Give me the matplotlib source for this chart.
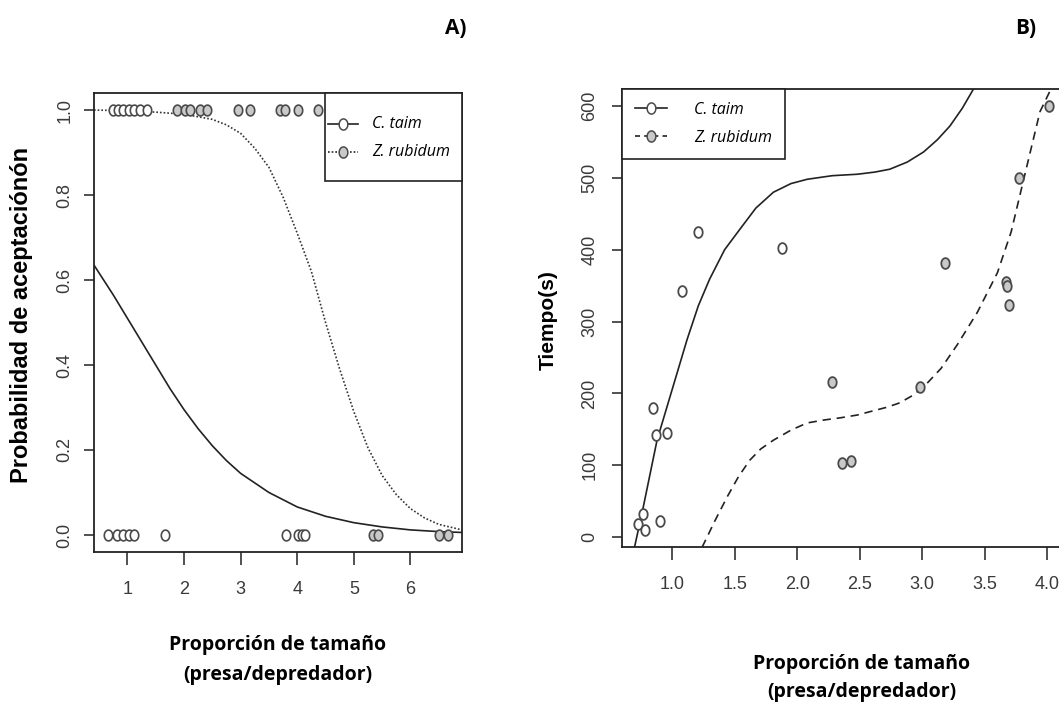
import numpy as np
import matplotlib
matplotlib.use("Agg")
import matplotlib.pyplot as plt
from matplotlib.lines import Line2D
from matplotlib.patches import Rectangle
from matplotlib.path import Path
from matplotlib import font_manager as fm

# --- A) acceptance probability vs size ratio ---
a_ct_x = [0.65, 0.82, 0.93, 1.02, 1.11, 1.67, 3.81, 4.02, 4.09, 4.14,
          0.75, 0.84, 0.93, 1.02, 1.11, 1.23, 1.35]
a_ct_y = [0] * 10 + [1] * 7
a_zr_x = [5.33, 5.42, 6.51, 6.67,
          1.88, 2.02, 2.11, 2.29, 2.41, 2.96, 3.17, 3.70, 3.79, 4.02, 4.36]
a_zr_y = [0] * 4 + [1] * 11

# fitted logistic curves
a_ct_fit_x = [0.41, 0.75, 1.0, 1.25, 1.5, 1.75, 2.0, 2.25, 2.5, 2.75, 3.0,
              3.5, 4.0, 4.5, 5.0, 5.5, 6.0, 6.5, 6.91]
a_ct_fit_y = [0.635, 0.565, 0.51, 0.455, 0.40, 0.345, 0.295, 0.25, 0.21, 0.175,
              0.145, 0.10, 0.066, 0.044, 0.029, 0.019, 0.012, 0.008, 0.006]
a_zr_fit_x = [0.41, 1.0, 1.5, 2.0, 2.5, 2.75, 3.0, 3.25, 3.5, 3.75, 4.0, 4.25,
              4.5, 4.75, 5.0, 5.25, 5.5, 5.75, 6.0, 6.25, 6.5, 6.91]
a_zr_fit_y = [1.0, 0.998, 0.995, 0.99, 0.978, 0.965, 0.945, 0.91, 0.865, 0.795,
              0.71, 0.62, 0.50, 0.39, 0.29, 0.205, 0.14, 0.095, 0.062, 0.04,
              0.025, 0.012]

# --- B) handling time vs size ratio ---
b_ct_x = [0.73, 0.77, 0.78, 0.85, 0.87, 0.90, 0.96, 1.08, 1.21, 1.88]
b_ct_y = [18, 33, 10, 180, 142, 22, 145, 343, 425, 402]
b_zr_x = [2.28, 2.36, 2.43, 2.98, 3.18, 3.67, 3.68, 3.69, 3.77, 4.01]
b_zr_y = [216, 103, 106, 209, 382, 355, 350, 323, 500, 600]

b_ct_fit_x = [0.70, 0.77, 0.88, 1.0, 1.12, 1.21, 1.30, 1.42, 1.54, 1.67, 1.81,
              1.95, 2.08, 2.28, 2.48, 2.62, 2.74, 2.88, 3.01, 3.12, 3.22, 3.32, 3.41]
b_ct_fit_y = [-14, 42, 135, 205, 275, 322, 359, 400, 428, 458, 480, 492, 498,
              503, 505, 508, 512, 522, 536, 553, 572, 597, 624]
b_zr_fit_x = [1.24, 1.34, 1.44, 1.53, 1.62, 1.71, 1.81, 1.95, 2.08, 2.21, 2.34,
              2.48, 2.61, 2.72, 2.82, 2.92, 3.01, 3.15, 3.28, 3.44, 3.60, 3.71,
              3.81, 3.94, 4.04]
b_zr_fit_y = [-14, 22, 56, 84, 107, 123, 135, 149, 159, 163, 166, 170, 176, 181,
              187, 197, 209, 235, 268, 313, 368, 425, 498, 592, 628]

a_xticks = [1, 2, 3, 4, 5, 6]
a_yticks = [0.0, 0.2, 0.4, 0.6, 0.8, 1.0]
b_xticks = [1.0, 1.5, 2.0, 2.5, 3.0, 3.5, 4.0]
b_yticks = [0, 100, 200, 300, 400, 500, 600]
species = ["C. taim", "Z. rubidum"]

W, H = 1059, 703
installed = {f.name for f in fm.fontManager.ttflist}
tick_font = "Liberation Sans Narrow" if "Liberation Sans Narrow" in installed else "Liberation Sans"
tick_color = "#3a3a3a"
edge = "#4a4a4a"
open_fill = "white"
grey_fill = "#c9c9c9"
leg_font = fm.FontProperties(family="Open Sans", style="italic", size=11.5)

# slightly tall ellipse used as the point marker
t = np.linspace(0, 2 * np.pi, 60)
oval = Path(np.column_stack([0.78 * np.cos(t), np.sin(t)]), closed=True)


def px_axes(fig, left, top, right, bottom):
    ax = fig.add_axes([left / W, 1 - bottom / H, (right - left) / W, (bottom - top) / H])
    ax.box_px = (left, top, right, bottom)
    return ax


def to_axes(ax, px, py):
    left, top, right, bottom = ax.box_px
    return (px - left) / (right - left), (bottom - py) / (bottom - top)


def style(ax, xticks, yticks, ylab_fmt, ypad):
    for s in ax.spines.values():
        s.set_linewidth(1.3)
        s.set_color("#222222")
    ax.set_xticks(xticks)
    ax.set_yticks(yticks)
    ax.set_yticklabels([ylab_fmt(v) for v in yticks], rotation=90, va="center",
                       fontfamily="Liberation Sans", fontsize=13, color=tick_color)
    ax.set_xticklabels([str(v) for v in xticks],
                       fontfamily=tick_font, fontsize=13, color=tick_color)
    ax.tick_params(axis="x", direction="out", length=9, width=1.2, pad=12, color="#333333")
    ax.tick_params(axis="y", direction="out", length=7, width=1.2, pad=ypad, color="#333333")


fig = plt.figure(figsize=(W / 100, H / 100), dpi=100)

# panel A
axA = px_axes(fig, 94, 93, 462, 552)
axA.plot(a_ct_fit_x, a_ct_fit_y, color="#222222", lw=1.2, solid_capstyle="butt")
axA.plot(a_zr_fit_x, a_zr_fit_y, color="#333333", lw=1.2, ls=(0, (1, 1.2)))
axA.scatter(a_ct_x, a_ct_y, marker=oval, s=60, facecolor=open_fill, edgecolor=edge,
            linewidth=1.2, zorder=3)
axA.scatter(a_zr_x, a_zr_y, marker=oval, s=60, facecolor=grey_fill, edgecolor=edge,
            linewidth=1.2, zorder=3)
axA.set_xlim(0.41, 6.91)
axA.set_ylim(-0.04, 1.04)
style(axA, a_xticks, a_yticks, lambda v: f"{v:.1f}", 8)

# legend box of panel A, laid out by hand (narrow box, tall padding)
x0, y0 = to_axes(axA, 325, 181)
x1, y1 = to_axes(axA, 462, 93)
axA.add_patch(Rectangle((x0, y0), x1 - x0, y1 - y0, transform=axA.transAxes,
                        facecolor="white", edgecolor="#222222", lw=1.2, zorder=4,
                        clip_on=False))
for row_y, name, ls, fill in [(124, species[0], "-", open_fill),
                              (152, species[1], (0, (1, 1.2)), grey_fill)]:
    ha, ya = to_axes(axA, 328, row_y)
    hb, _ = to_axes(axA, 358, row_y)
    hm, _ = to_axes(axA, 343, row_y)
    axA.plot([ha, hb], [ya, ya], color="#222222", lw=1.2, ls=ls,
             transform=axA.transAxes, zorder=5, clip_on=False)
    axA.plot([hm], [ya], marker=oval, ms=8, mfc=fill, mec=edge, mew=1.1,
             transform=axA.transAxes, zorder=6, clip_on=False)
    tx, _ = to_axes(axA, 372, row_y)
    axA.text(tx, ya, name, fontproperties=leg_font, va="center", ha="left",
             transform=axA.transAxes, zorder=6)

# panel B (right edge runs past the figure)
axB = px_axes(fig, 622, 89, 1065, 547)
axB.plot(b_ct_fit_x, b_ct_fit_y, color="#222222", lw=1.2)
axB.plot(b_zr_fit_x, b_zr_fit_y, color="#222222", lw=1.2, ls=(0, (5, 3.5)))
axB.scatter(b_ct_x, b_ct_y, marker=oval, s=60, facecolor=open_fill, edgecolor=edge,
            linewidth=1.3, zorder=3)
axB.scatter(b_zr_x, b_zr_y, marker=oval, s=60, facecolor=grey_fill, edgecolor=edge,
            linewidth=1.3, zorder=3)
axB.set_xlim(0.6, 4.14)
axB.set_ylim(-13.6, 623.6)
style(axB, b_xticks, b_yticks, lambda v: f"{v:d}", 10)

hB = [Line2D([], [], color="#222222", lw=1.2, marker=oval, ms=8,
             mfc=open_fill, mec=edge, mew=1.1),
      Line2D([], [], color="#222222", lw=1.2, ls=(0, (3, 2.5)), marker=oval, ms=8,
             mfc=grey_fill, mec=edge, mew=1.1)]
legB = axB.legend(hB, species, loc="upper left", bbox_to_anchor=(0, 1),
                  borderaxespad=0, fancybox=False, framealpha=1, edgecolor="#222222",
                  prop=leg_font, handlelength=2.0, handletextpad=1.7,
                  labelspacing=0.75, borderpad=0.8)
legB.get_frame().set_linewidth(1.2)

# axis titles and panel letters
lab = dict(family="Open Sans", weight="bold", fontsize=14, ha="center", va="center")
fig.text(278 / W, 1 - 645 / H, "Proporción de tamaño", **lab)
fig.text(278 / W, 1 - 675 / H, "(presa/depredador)", **lab)
fig.text(862 / W, 1 - 664 / H, "Proporción de tamaño", **lab)
fig.text(862 / W, 1 - 692 / H, "(presa/depredador)", **lab)
fig.text(22 / W, 1 - 315 / H, "Probabilidad de aceptaciónón", rotation=90,
         family="Liberation Sans", weight="bold", fontsize=17, ha="center", va="center")
fig.text(548 / W, 1 - 320 / H, "Tiempo(s)", rotation=90,
         family="Liberation Sans", weight="bold", fontsize=15, ha="center", va="center")
fig.text(456 / W, 1 - 28 / H, "A)", family="Open Sans", weight="bold", fontsize=15,
         ha="center", va="center")
fig.text(1026 / W, 1 - 28 / H, "B)", family="Open Sans", weight="bold", fontsize=15,
         ha="center", va="center")

fig.savefig("out.png", dpi=100)
